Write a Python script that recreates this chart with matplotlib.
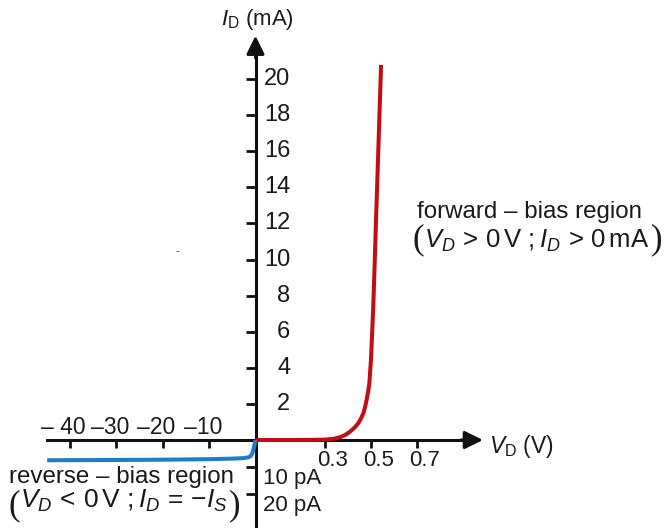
import numpy as np
import matplotlib
matplotlib.use("Agg")
import matplotlib.pyplot as plt

plt.rcParams['font.family'] = ['Liberation Sans', 'DejaVu Sans']
plt.rcParams['mathtext.fontset'] = 'custom'
plt.rcParams['mathtext.rm'] = 'Liberation Sans'
plt.rcParams['mathtext.it'] = 'Liberation Sans:italic'
plt.rcParams['mathtext.bf'] = 'Liberation Sans:bold'

# ---------------- data ----------------
# forward-bias branch (V, mA)
fwd_v = [0.0, 0.10, 0.20, 0.30, 0.34, 0.367, 0.390, 0.411, 0.430, 0.447, 0.459, 0.469,
         0.477, 0.483, 0.490, 0.495, 0.502, 0.507, 0.512, 0.518, 0.524, 0.529, 0.534, 0.540, 0.546]
fwd_i = [0.0, 0.0, 0.0, 0.02, 0.07, 0.15, 0.28, 0.46, 0.68, 0.93, 1.20, 1.48,
         1.85, 2.22, 2.70, 3.14, 4.43, 5.91, 7.38, 9.70, 12.19, 14.10, 16.07, 18.40, 20.78]
# reverse-bias branch (V, pA)
rev_v = [-44.8, -30.0, -20.0, -10.0, -5.0, -2.5, -1.5, -1.0, -0.7, -0.4, -0.2, 0.0]
rev_i_pA = [-7.5, -7.4, -7.3, -7.1, -6.9, -6.7, -6.4, -5.9, -5.0, -3.2, -1.6, 0.0]

x_ticks_neg = [-40, -30, -20, -10]
x_labels_neg = ['\u2013 40', '\u201330', '\u201320', '\u201310']
x_ticks_pos = [0.3, 0.5, 0.7]
x_labels_pos = ['0.3', '0.5', '0.7']
y_ticks_pos = [2, 4, 6, 8, 10, 12, 14, 16, 18, 20]
y_labels_pos = [str(t) for t in y_ticks_pos]
y_ticks_neg_pA = [-10, -20]
y_labels_neg = ['10 pA', '20 pA']

PA = 1e-9  # pA expressed in mA

# ---------------- piecewise scales ----------------
XP, XN = 230.0, 4.65
YP, YN = 18.05, 2.7e9


def fx(v):
    v = np.asarray(v, dtype=float)
    return np.where(v >= 0, v * XP, v * XN)


def fxi(u):
    u = np.asarray(u, dtype=float)
    return np.where(u >= 0, u / XP, u / XN)


def fy(y):
    y = np.asarray(y, dtype=float)
    return np.where(y >= 0, y * YP, y * YN)


def fyi(u):
    u = np.asarray(u, dtype=float)
    return np.where(u >= 0, u / YP, u / YN)


W, H = 671, 528
fig = plt.figure(figsize=(W / 100, H / 100), dpi=100)
ax = fig.add_axes([0, 0, 1, 1])
ax.set_xscale('function', functions=(fx, fxi))
ax.set_yscale('function', functions=(fy, fyi))
ax.set_xlim(-255.5 / XN, 415.5 / XP)
ax.set_ylim(-88.0 / YN, 440.0 / YP)

for s in ['top', 'right']:
    ax.spines[s].set_visible(False)
ax.spines['bottom'].set_position(('data', 0))
ax.spines['left'].set_position(('data', 0))
ax.spines['bottom'].set_linewidth(2.2)
ax.spines['left'].set_linewidth(2.2)
ax.spines['bottom'].set_color('#111111')
ax.spines['left'].set_color('#111111')
x_tip = 0.989
y_tip = 22.4
ax.spines['bottom'].set_bounds(-44.8, 0.95)
ax.spines['left'].set_bounds(-88.0 / YN, 21.8)

ax.set_xticks(x_ticks_neg + x_ticks_pos)
ax.set_yticks([t * PA for t in y_ticks_neg_pA] + y_ticks_pos)
ax.xaxis.set_minor_locator(matplotlib.ticker.NullLocator())
ax.yaxis.set_minor_locator(matplotlib.ticker.NullLocator())
ax.tick_params(axis='x', which='major', direction='out', length=6, width=2.0,
               labelbottom=False, color='#111111')
ax.tick_params(axis='y', which='major', direction='out', length=7.5, width=2.0,
               labelleft=False, color='#111111')

arrow = dict(arrowstyle='-|>,head_length=0.55,head_width=0.27', color='#111111',
             lw=2.2, shrinkA=0, shrinkB=0, mutation_scale=20)
ax.annotate('', xy=(x_tip, 0), xytext=(-16, 0), textcoords='offset points', arrowprops=arrow)
ax.annotate('', xy=(0, y_tip), xytext=(0, -16), textcoords='offset points', arrowprops=arrow)

ax.plot(fwd_v, fwd_i, color='#c40d12', lw=2.9, solid_capstyle='butt', zorder=3)
ax.plot(rev_v, [i * PA for i in rev_i_pA], color='#1f7ccc', lw=2.9,
        solid_capstyle='butt', zorder=3)

tc = '#1a1a1a'
for t, lab in zip(y_ticks_pos, y_labels_pos):
    ax.annotate(lab, xy=(0, t), xytext=(25, 0), textcoords='offset points',
                ha='right', va='center', fontsize=17, color=tc)
for t, lab in zip(y_ticks_neg_pA, y_labels_neg):
    ax.annotate(lab, xy=(0, t * PA), xytext=(5.5, -8), textcoords='offset points',
                ha='left', va='center', fontsize=16, color=tc)
for t, lab in zip(x_ticks_pos, x_labels_pos):
    ax.annotate(lab, xy=(t, 0), xytext=(5.5, -14.5), textcoords='offset points',
                ha='center', va='center', fontsize=16, color=tc)
for t, lab in zip(x_ticks_neg, x_labels_neg):
    ax.annotate(lab, xy=(t, 0), xytext=(-4.5, 9), textcoords='offset points',
                ha='center', va='center', fontsize=16.5, color=tc)

# axis titles
ax.text(221 / W, 1 - 20 / H, r'$I_{\mathrm{D}}$ (mA)', transform=ax.transAxes,
        ha='left', va='center', fontsize=16, color=tc)
ax.text(489 / W, 1 - 446 / H, r'$V_{\mathrm{D}}$ (V)', transform=ax.transAxes,
        ha='left', va='center', fontsize=16.5, color=tc)

# stray dash present in the reference
ax.text(178 / W, 1 - 252 / H, '-', transform=ax.transAxes, ha='center', va='center',
        fontsize=9, color='#555555')

# region annotations
ax.text(417 / W, 1 - 212 / H, 'forward \u2013 bias region', transform=ax.transAxes,
        ha='left', va='center', fontsize=17.4, color=tc)
ax.text(9 / W, 1 - 477 / H, 'reverse \u2013 bias region', transform=ax.transAxes,
        ha='left', va='center', fontsize=17.4, color=tc)

renderer = fig.canvas.get_renderer()


def paren_line(x_left, y_base, y_paren, content, fs):
    lp = ax.text(x_left / W, 1 - y_paren / H, '(', transform=ax.transAxes, ha='left',
                 va='center', fontsize=25, family='Liberation Serif', color=tc)
    bb = lp.get_window_extent(renderer)
    c = ax.text(bb.x1 / W, 1 - y_base / H, content, transform=ax.transAxes,
                ha='left', va='baseline', fontsize=fs, color=tc)
    cb = c.get_window_extent(renderer)
    ax.text(cb.x1 / W + 1 / W, 1 - y_paren / H, ')', transform=ax.transAxes, ha='left',
            va='center', fontsize=25, family='Liberation Serif', color=tc)


paren_line(413, 248, 240, r'$V_D\,>\,0\,\mathrm{V}\ ;I_D\,>\,0\,\mathrm{mA}$', 18.5)
paren_line(9, 508, 506, r'$V_D\,<\,0\,\mathrm{V}\ ;I_D\,=\,{-}I_S$', 19)

fig.savefig('out.png', dpi=100)
